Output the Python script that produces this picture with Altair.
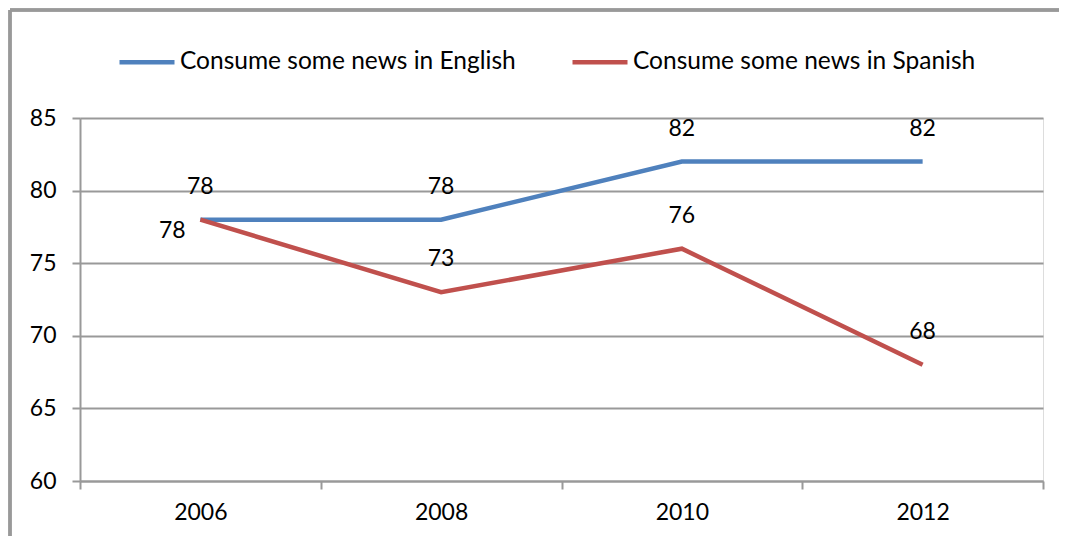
import altair as alt
import pandas as pd

years = ["2006", "2008", "2010", "2012"]
english = [78, 78, 82, 82]
spanish = [78, 73, 76, 68]
series_names = ["Consume some news in English", "Consume some news in Spanish"]
colors = ["#4F81BD", "#C0504D"]

rows = []
for y, e in zip(years, english):
    rows.append({"year": y, "value": e, "series": series_names[0]})
for y, s in zip(years, spanish):
    rows.append({"year": y, "value": s, "series": series_names[1]})
df = pd.DataFrame(rows)

FONT = "Lato"
GRID = "#999999"

x_enc = alt.X("year:O", sort=years,
              scale=alt.Scale(paddingInner=0, paddingOuter=0),
              axis=alt.Axis(title=None, labelAngle=0, tickBand="extent", grid=False,
                            domainColor=GRID, domainWidth=2, tickColor=GRID, tickWidth=2,
                            tickSize=8, labelFontSize=23, labelFont=FONT, labelColor="black",
                            labelPadding=12))
y_enc = alt.Y("value:Q", scale=alt.Scale(domain=[60, 85], nice=False, zero=False),
              axis=alt.Axis(title=None, values=[60, 65, 70, 75, 80, 85], grid=True,
                            gridColor=GRID, gridWidth=2, domainColor=GRID, domainWidth=2,
                            tickColor=GRID, tickWidth=2, tickSize=8, labelFontSize=23,
                            labelFont=FONT, labelColor="black", labelPadding=16))
color_enc = alt.Color("series:N", sort=series_names,
                      scale=alt.Scale(domain=series_names, range=colors),
                      legend=alt.Legend(title=None, orient="none", direction="horizontal",
                                        legendX=37, legendY=-86, symbolType="stroke",
                                        symbolSize=3025, symbolStrokeWidth=4.5,
                                        labelFontSize=24.5, labelFont=FONT, labelColor="black",
                                        labelOffset=3, columnPadding=47, labelLimit=600))

base = alt.Chart(df)
lines = base.mark_line(strokeWidth=4.5).encode(x=x_enc, y=y_enc, color=color_enc)

text_above = base.transform_filter(
    "!(datum.series == 'Consume some news in Spanish' && datum.year == '2006')"
).mark_text(dy=-33, fontSize=23, font=FONT, color="black", baseline="middle").encode(
    x=alt.X("year:O", sort=years), y="value:Q", text="value:Q")
text_left = base.transform_filter(
    "datum.series == 'Consume some news in Spanish' && datum.year == '2006'"
).mark_text(dx=-28, dy=11, fontSize=23, font=FONT, color="black", baseline="middle").encode(
    x=alt.X("year:O", sort=years), y="value:Q", text="value:Q")

frame_left = base.mark_rule(color=GRID, strokeWidth=2.5).encode(
    x=alt.value(-70), y=alt.value(-108), y2=alt.value(460))
frame_top = base.mark_rule(color=GRID, strokeWidth=2.5).encode(
    x=alt.value(-70), x2=alt.value(1010), y=alt.value(-108))

chart = alt.layer(frame_left, frame_top, lines, text_above, text_left).properties(
    width=963, height=363,
    autosize=alt.AutoSizeParams(type="none"),
    padding={"left": 72, "top": 110, "right": 16, "bottom": 55},
).configure_view(stroke=None).configure(background="white")

chart.save("out.html", embed_options={"renderer": "svg", "actions": False})
